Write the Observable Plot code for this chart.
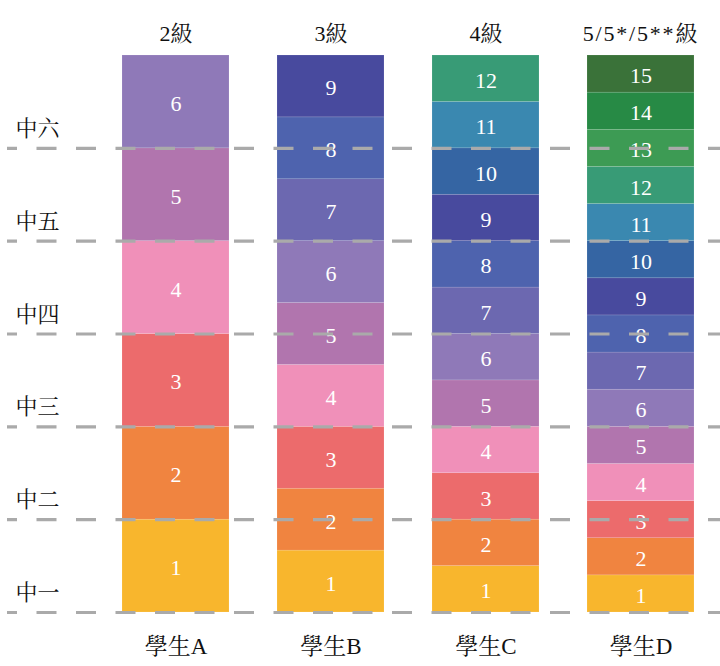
<!DOCTYPE html>
<html>
<head>
<meta charset="utf-8">
<script src="https://cdn.jsdelivr.net/npm/d3@7"></script>
<script src="https://cdn.jsdelivr.net/npm/@observablehq/plot@0.6"></script>
<style>
  body { margin: 0; background: #fff; }
  #chart svg { display: block; }
</style>
</head>
<body>
<div id="chart"></div>
<script>
const students = ["學生A", "學生B", "學生C", "學生D"];
const levelCounts = [6, 9, 12, 15];
const grades = ["2級", "3級", "4級", "5/5*/5**級"];
const years = ["中一", "中二", "中三", "中四", "中五", "中六"];
const levelColors = [
  "#f8b62d", "#f08440", "#ec6b6c", "#f090b9", "#b175ae",
  "#8f79b8", "#6c68b0", "#4e63ae", "#484a9e", "#3565a3",
  "#3a88b0", "#389b76", "#3d9b54", "#278a45", "#3a7239"
];

const totalYears = years.length;
const segments = [];
students.forEach((s, si) => {
  const n = levelCounts[si];
  for (let i = 1; i <= n; i++) {
    segments.push({student: s, level: i, y1: (i - 1) * totalYears / n, y2: i * totalYears / n});
  }
});
const yearRows = years.map((label, i) => ({label, v: i}));
const heads = students.map((s, i) => ({student: s, grade: grades[i]}));

const font = "'Liberation Serif', 'Noto Serif CJK TC', serif";

const chart = Plot.plot({
  width: 720,
  height: 666,
  marginTop: 55,
  marginBottom: 54,
  marginLeft: 0,
  marginRight: 0,
  style: {background: "#fff", fontFamily: font},
  x: {domain: students, range: [98, 718], paddingInner: 0.31, paddingOuter: 0.155, align: 0.5, axis: null},
  y: {domain: [0, totalYears], axis: null},
  color: {domain: d3.range(1, 16), range: levelColors},
  marks: [
    Plot.rectY(segments, {
      x: "student", y1: "y1", y2: "y2", fill: d => d.level,
      stroke: "#ffffff", strokeOpacity: 0.2, strokeWidth: 0.6
    }),
    Plot.text(segments, {
      x: "student", y: d => (d.y1 + d.y2) / 2, text: d => String(d.level),
      fill: "white", fontSize: 22, dy: 2, fontFamily: font
    }),
    Plot.text(heads, {
      x: "student", text: "grade", frameAnchor: "top", dy: -30,
      fontSize: 22, fill: "#111", fontFamily: font
    }),
    Plot.text(students, {
      x: d => d, text: d => d, frameAnchor: "bottom", dy: 41,
      fontSize: 23, fill: "#111", fontFamily: font
    }),
    Plot.text(yearRows, {
      y: d => d.v + 0.21, text: "label", frameAnchor: "left", dx: 15,
      textAnchor: "start", fontSize: 22, fill: "#111", fontFamily: font
    }),
    Plot.ruleY(d3.range(0, totalYears), {
      stroke: "#aaaaaa", strokeWidth: 3.2, strokeDasharray: "20,19.5",
      strokeDashoffset: 10, insetLeft: 7
    })
  ]
});
d3.select(chart).selectAll("text").style("font-family", font);
d3.select(chart).selectAll("text").filter(function() { return this.textContent.includes("**"); })
  .style("letter-spacing", "1.8px");
document.getElementById("chart").appendChild(chart);
</script>
</body>
</html>
